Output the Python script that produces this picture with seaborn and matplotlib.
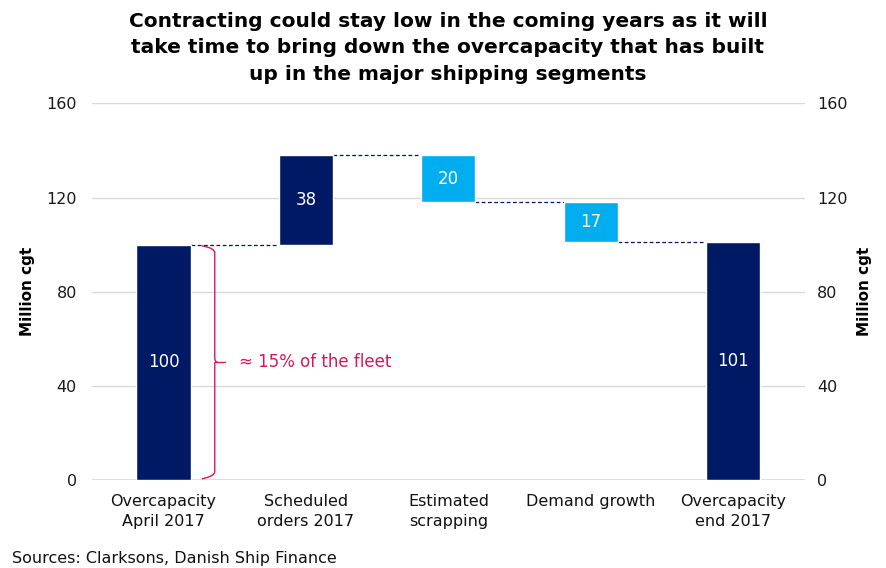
import numpy as np
import pandas as pd
import matplotlib
matplotlib.use("Agg")
import matplotlib.pyplot as plt
from matplotlib.path import Path
from matplotlib.patches import PathPatch
import seaborn as sns

# Waterfall data (million cgt)
categories = ["Overcapacity\nApril 2017", "Scheduled\norders 2017", "Estimated\nscrapping",
              "Demand growth", "Overcapacity\nend 2017"]
bar_bottoms = [0, 100, 118, 101, 0]
bar_tops = [100, 138, 138, 118, 101]
bar_labels = ["100", "38", "20", "17", "101"]
bar_kinds = ["total", "up", "down", "down", "total"]

NAVY = "#001965"
LIGHT = "#00AEEF"
PINK = "#D6175E"
kind_colors = {"total": NAVY, "up": NAVY, "down": LIGHT}

df = pd.DataFrame({
    "category": categories,
    "bottom": bar_bottoms,
    "top": bar_tops,
    "label": bar_labels,
    "kind": bar_kinds,
})
df["height"] = df["top"] - df["bottom"]

sns.set_style("white")
plt.rcParams["font.family"] = ["DejaVu Sans"]

fig, ax = plt.subplots(figsize=(8.87, 5.68), dpi=100)
fig.subplots_adjust(left=0.104, right=0.907, top=0.818, bottom=0.155)

palette = {c: kind_colors[k] for c, k in zip(df["category"], df["kind"])}
sns.barplot(data=df, x="category", y="height", hue="category", palette=palette,
            order=categories, hue_order=categories, width=0.38, legend=False,
            saturation=1, ax=ax, zorder=3)

# shift bars to their waterfall bottoms
for patch, b in zip(ax.patches, df["bottom"]):
    patch.set_y(b)

# value labels
for i, row in df.iterrows():
    ax.text(i, (row["bottom"] + row["top"]) / 2, row["label"], ha="center", va="center",
            color="white", fontsize=12, zorder=4)

# dashed connectors
half = 0.38 / 2
for i in range(len(df) - 1):
    level = df["bottom"][i] if df["kind"][i] == "down" else df["top"][i]
    ax.plot([i + half, i + 1 - half], [level, level], ls=(0, (3, 2)), lw=0.9,
            color=NAVY, zorder=2)

# brace next to first bar
x0, x1, xm = 0.27, 0.36, 0.43
y0, y1 = 0.5, df["top"][0] - 0.5
ym = (y0 + y1) / 2
verts = [(x0, y1), (x1, y1 - 1), (x1, y1 - 3), (x1, ym + 2),
         (x1, ym), (xm - 0.05, ym), (xm, ym),
         (x1, ym - 0.01), (x1, ym), (x1, ym - 2),
         (x1, y0 + 3), (x1, y0 + 1), (x0, y0)]
codes = [Path.MOVETO, Path.CURVE3, Path.CURVE3, Path.LINETO,
         Path.CURVE3, Path.CURVE3, Path.MOVETO,
         Path.MOVETO, Path.CURVE3, Path.CURVE3,
         Path.LINETO, Path.CURVE3, Path.CURVE3]
ax.add_patch(PathPatch(Path(verts, codes), fill=False, edgecolor=PINK, lw=1.0, zorder=4))
ax.plot([x1, xm], [ym, ym], color=PINK, lw=1.0, zorder=4)
ax.text(xm + 0.1, ym, "≈ 15% of the fleet", color=PINK, fontsize=12, va="center", ha="left")

# axes styling
ax.set_xlim(-0.5, 4.5)
ax.set_ylim(0, 160)
ax.set_yticks([0, 40, 80, 120, 160])
ax.yaxis.grid(True, color="#d9d9d9", lw=1, zorder=0)
ax.set_axisbelow(True)
for s in ax.spines.values():
    s.set_visible(False)
ax.axhline(0, color="#d9d9d9", lw=1.2, zorder=1)
ax.tick_params(axis="y", length=0, pad=11, labelsize=11.5, labelcolor="#1a1a1a")
ax.tick_params(axis="x", length=0, pad=10, labelsize=11.5, labelcolor="#111111")
for lab in ax.get_xticklabels():
    lab.set_linespacing(1.45)
ax.set_xlabel("")
ax.set_ylabel("Million cgt", fontsize=11, fontweight="bold", labelpad=8, color="black")

ax2 = ax.twinx()
ax2.set_ylim(ax.get_ylim())
ax2.set_yticks([0, 40, 80, 120, 160])
for s in ax2.spines.values():
    s.set_visible(False)
ax2.tick_params(axis="y", length=0, pad=9, labelsize=11.5, labelcolor="#1a1a1a")
ax2.set_ylabel("Million cgt", fontsize=11, fontweight="bold", labelpad=7, color="black")

fig.suptitle("Contracting could stay low in the coming years as it will\n"
             "take time to bring down the overcapacity that has built\n"
             "up in the major shipping segments",
             x=0.505, y=0.979, fontsize=14.5, fontweight="bold", linespacing=1.5,
             color="black")
fig.text(0.013, 0.008, "Sources: Clarksons, Danish Ship Finance", fontsize=11.5, color="#111111")

fig.savefig("out.png", dpi=100)
